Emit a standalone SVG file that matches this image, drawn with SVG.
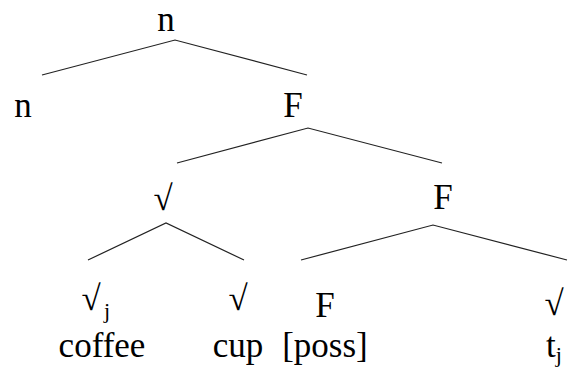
<svg xmlns="http://www.w3.org/2000/svg" width="579" height="374" viewBox="0 0 579 374">
<style>
text{font-family:"Liberation Serif","Times New Roman",serif;font-size:35px;fill:#000;text-anchor:middle}
.sub{font-size:22px;text-anchor:start}
.edge{stroke:#222;stroke-width:1.2;fill:none}
</style>
<rect width="579" height="374" fill="#fff"/>
<g id="connectors">
<polyline class="edge" points="42,75 175,40 307,75"/>
<polyline class="edge" points="177,163 308,128 442,163"/>
<polyline class="edge" points="88,260 166,223 244,260"/>
<polyline class="edge" points="301,260 433,225 567,260"/>
</g>
<g id="n-root"><text x="166" y="31">n</text></g>
<g id="n-left"><text x="23" y="117">n</text></g>
<g id="F-1"><text x="293" y="117">F</text></g>
<g id="root-mid"><text x="163" y="210">√</text></g>
<g id="F-2"><text x="443" y="209">F</text></g>
<g id="root-j"><text x="91" y="310">√</text><text class="sub" x="104" y="318">j</text><text x="102" y="357">coffee</text></g>
<g id="root-cup"><text x="238" y="310">√</text><text x="238" y="357">cup</text></g>
<g id="F-poss"><text x="325" y="317">F</text><text x="325" y="357">[poss]</text></g>
<g id="root-t"><text x="554" y="315">√</text><text x="554" y="357">t<tspan class="sub" dy="5">j</tspan></text></g>
</svg>
